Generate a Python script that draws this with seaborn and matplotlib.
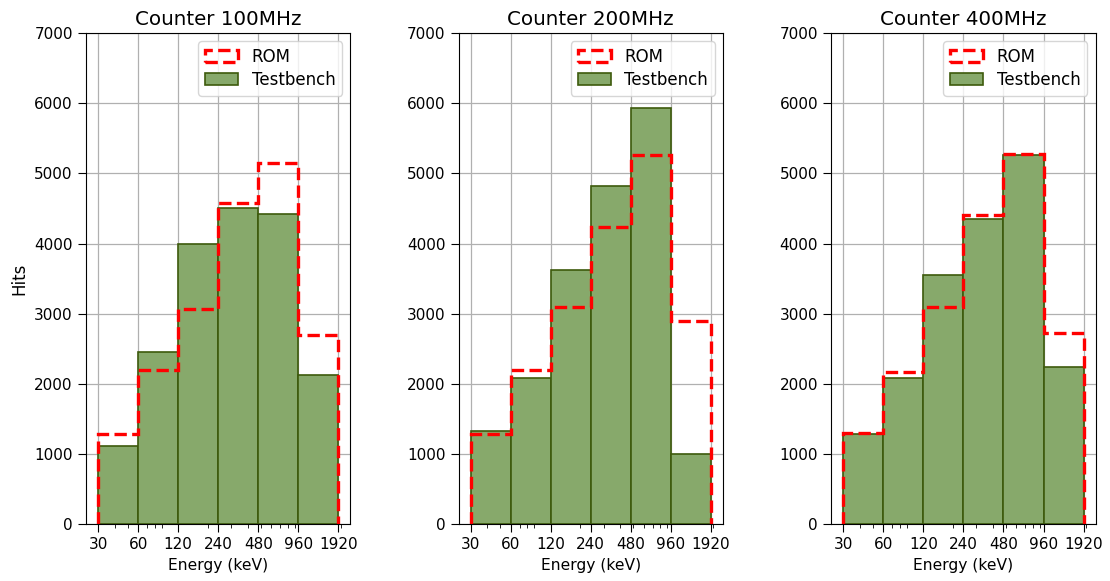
import numpy as np
import matplotlib
matplotlib.use("Agg")
import matplotlib.pyplot as plt
from matplotlib.ticker import FixedLocator, FixedFormatter, NullFormatter, LogLocator
import seaborn as sns

# Energy bin edges (keV) and tick labels
bin_edges = [30, 60, 120, 240, 480, 960, 1920]
tick_labels = ["30", "60", "120", "240", "480", "960", "1920"]

# Per-bin hit counts for each counter clock
titles = ["Counter 100MHz", "Counter 200MHz", "Counter 400MHz"]

testbench_100 = [1120, 2450, 4000, 4500, 4420, 2130]
rom_100 = [1290, 2200, 3070, 4580, 5150, 2690]

testbench_200 = [1320, 2080, 3620, 4820, 5930, 1000]
rom_200 = [1290, 2200, 3090, 4230, 5260, 2900]

testbench_400 = [1290, 2080, 3550, 4350, 5260, 2240]
rom_400 = [1300, 2170, 3090, 4400, 5270, 2730]

testbench_sets = [testbench_100, testbench_200, testbench_400]
rom_sets = [rom_100, rom_200, rom_400]

bar_face = "#87a96b"
bar_edge = "#3d5a0c"

fig, axes = plt.subplots(1, 3, figsize=(11.1, 5.81), dpi=100)
fig.subplots_adjust(left=0.0775, right=0.987, bottom=0.098, top=0.943, wspace=0.41)

left_edges = bin_edges[:-1]

for ax, title, tb, rom in zip(axes, titles, testbench_sets, rom_sets):
    ax.set_axisbelow(True)
    ax.grid(True, color="#b0b0b0", linewidth=0.9)

    # ROM reference histogram as a dashed outline
    ax.hist(left_edges, bins=bin_edges, weights=rom, histtype="step",
            linestyle="--", linewidth=2.4, edgecolor="red", label="ROM")

    # Testbench histogram as filled bars
    sns.histplot(x=left_edges, weights=tb, bins=bin_edges, stat="count",
                 element="bars", fill=True, color=bar_face, alpha=1.0,
                 edgecolor=bar_edge, linewidth=1.2, label="Testbench", ax=ax)

    ax.set_xscale("log")
    ax.xaxis.set_major_locator(FixedLocator(bin_edges))
    ax.xaxis.set_major_formatter(FixedFormatter(tick_labels))
    ax.xaxis.set_minor_locator(LogLocator(base=10, subs=np.arange(2, 10)))
    ax.xaxis.set_minor_formatter(NullFormatter())

    ax.set_ylim(0, 7000)
    ax.set_yticks(np.arange(0, 7001, 1000))

    ax.tick_params(axis="both", which="major", labelsize=11, length=5.5, pad=4)
    ax.tick_params(axis="both", which="minor", length=3)
    ax.set_title(title, fontsize=14.3)
    ax.set_xlabel("Energy (keV)", fontsize=11.2)
    ax.set_ylabel("")
    for side in ax.spines.values():
        side.set_color("black")

    ax.legend(loc="upper right", fontsize=12, labelspacing=0.3)

axes[0].set_ylabel("Hits", fontsize=12)

fig.savefig("out.png", dpi=100)
